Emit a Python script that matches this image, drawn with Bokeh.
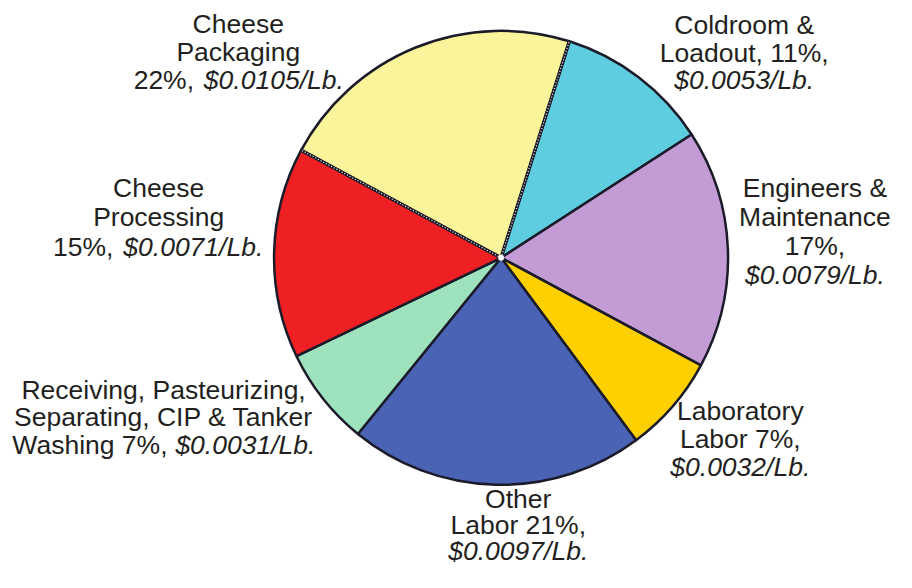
import math
from bokeh.plotting import figure
from bokeh.models import Range1d, ColumnDataSource
from bokeh.embed import file_html
from bokeh.resources import INLINE
from bokeh.core.properties import value

# ---------------- data ----------------
categories = ["Coldroom & Loadout", "Engineers & Maintenance", "Laboratory Labor",
              "Other Labor", "Receiving, Pasteurizing, Separating, CIP & Tanker Washing",
              "Cheese Processing", "Cheese Packaging"]
shares = [11, 17, 7, 21, 7, 15, 22]
cost_per_lb = [0.0053, 0.0079, 0.0032, 0.0097, 0.0031, 0.0071, 0.0105]

# label text lines per category: (regular part, italic part)
label_lines = [
    [("Coldroom &", ""), ("Loadout, {p}%,", ""), ("", "{c}")],
    [("Engineers &", ""), ("Maintenance", ""), ("{p}%,", ""), ("", "{c}")],
    [("Laboratory", ""), ("Labor {p}%,", ""), ("", "{c}")],
    [("Other", ""), ("Labor {p}%,", ""), ("", "{c}")],
    [("Receiving, Pasteurizing,", ""), ("Separating, CIP & Tanker", ""), ("Washing {p}%,", "{c}")],
    [("Cheese", ""), ("Processing", ""), ("{p}%,", "{c}")],
    [("Cheese", ""), ("Packaging", ""), ("{p}%,", "{c}")],
]

# ---------------- style / layout ----------------
colors = ["#5ECDE0", "#C39CD6", "#FFD000", "#4A63B5", "#9FE3BE", "#EE2024", "#FAF59A"]
W, H = 896, 572
REF_W, REF_H = 912, 588
SX, SY = W / REF_W, H / REF_H


def px(x, y):
    """reference-picture pixel -> data coordinate"""
    return x * SX, H - y * SY


CX, CY = px(509.5, 264.5)
R = 227
START_DEG = 17.5  # clockwise from 12 o'clock

# label layout: centre x, first-line y, line step, (regular end x, italic start x) for mixed lines
label_layout = [
    (757, 25, 28.5, None),
    (829, 193, 29.7, None),
    (753, 422, 29.0, None),
    (527, 512, 27.0, None),
    (166, 400, 28.5, (170, 178)),
    (161, 193, 30.0, (115, 125)),
    (242, 24, 29.0, (197, 207)),
]
FONT = "Liberation Sans"
FSIZE = "26.5px"
TCOL = "#231F20"

# ---------------- figure ----------------
p = figure(width=W, height=H, output_backend="svg", toolbar_location=None,
           x_range=Range1d(0, W), y_range=Range1d(0, H), min_border=0)
p.axis.visible = False
p.grid.visible = False
p.outline_line_color = None
p.background_fill_color = "white"
p.border_fill_color = "white"

total = float(sum(shares))
starts, ends = [], []
acc = START_DEG
for s in shares:
    a1 = acc
    a2 = acc + 360.0 * s / total
    # clockwise-from-top -> math angle (counter-clockwise from +x)
    starts.append(math.radians(90 - a2))
    ends.append(math.radians(90 - a1))
    acc = a2

src = ColumnDataSource(dict(x=[CX] * len(shares), y=[CY] * len(shares),
                            start=starts, end=ends, color=colors, cat=categories))
p.wedge(x="x", y="y", radius=R, start_angle="start", end_angle="end",
        direction="anticlock", fill_color="color", line_color="#1B1B2A",
        line_width=2.5, source=src)

# highlighted (dotted) edges of the Cheese Packaging slice
pk = len(shares) - 1
edge_angles = [ends[pk], starts[pk]]
x0 = [CX for _ in edge_angles]
y0 = [CY for _ in edge_angles]
x1 = [CX + R * math.cos(a) for a in edge_angles]
y1 = [CY + R * math.sin(a) for a in edge_angles]
p.segment(x0=x0, y0=y0, x1=x1, y1=y1, line_color="#1B1B2A", line_width=3.5)
p.segment(x0=x0, y0=y0, x1=x1, y1=y1, line_color="white", line_width=1.2,
          line_dash="1 2")
p.scatter(x=[CX], y=[CY], size=6, fill_color="white", line_color=None)

# ---------------- labels ----------------
reg = dict(x=[], y=[], t=[], align=[])
ita = dict(x=[], y=[], t=[], align=[])
for lines, share, cost, (lx, ly, step, junc) in zip(label_lines, shares, cost_per_lb, label_layout):
    ctext = "${:.4f}/Lb.".format(cost)
    for i, (r_t, i_t) in enumerate(lines):
        r_t = r_t.format(p=share)
        i_t = i_t.format(c=ctext)
        yy = ly + i * step
        if r_t and i_t:
            xr, yr = px(junc[0], yy)
            xi, yi = px(junc[1], yy)
            reg["x"].append(xr); reg["y"].append(yr); reg["t"].append(r_t); reg["align"].append("right")
            ita["x"].append(xi); ita["y"].append(yi); ita["t"].append(i_t); ita["align"].append("left")
        elif r_t:
            xx, yv = px(lx, yy)
            reg["x"].append(xx); reg["y"].append(yv); reg["t"].append(r_t); reg["align"].append("center")
        else:
            xx, yv = px(lx, yy)
            ita["x"].append(xx); ita["y"].append(yv); ita["t"].append(i_t); ita["align"].append("center")

p.text(x="x", y="y", text="t", text_align="align", source=ColumnDataSource(reg),
       text_font=value(FONT), text_font_size=FSIZE, text_color=TCOL,
       text_baseline="middle")
p.text(x="x", y="y", text="t", text_align="align", source=ColumnDataSource(ita),
       text_font=value(FONT), text_font_size=FSIZE, text_color=TCOL,
       text_font_style="italic", text_baseline="middle")

open("out.html", "w").write(file_html(p, INLINE))
